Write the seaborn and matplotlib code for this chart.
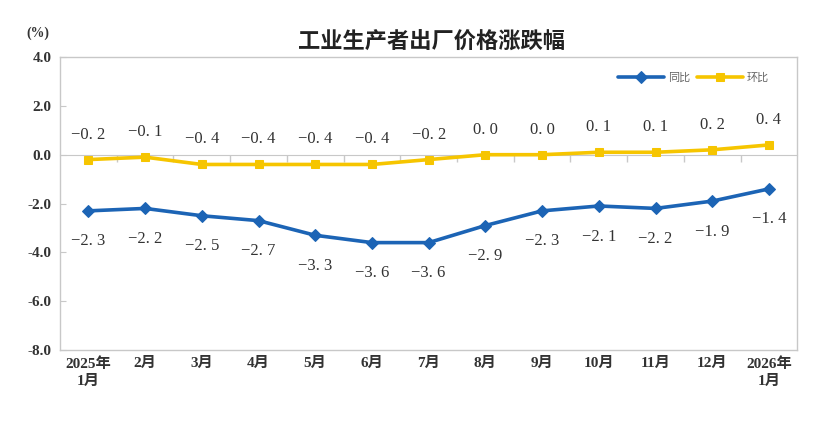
import numpy as np
import pandas as pd
import matplotlib
matplotlib.use('Agg')
import matplotlib.pyplot as plt
import seaborn as sns

# 数据
months = ['2025年\n1月', '2月', '3月', '4月', '5月', '6月', '7月', '8月', '9月',
          '10月', '11月', '12月', '2026年\n1月']
tongbi = [-2.3, -2.2, -2.5, -2.7, -3.3, -3.6, -3.6, -2.9, -2.3, -2.1, -2.2, -1.9, -1.4]
huanbi = [-0.2, -0.1, -0.4, -0.4, -0.4, -0.4, -0.2, 0.0, 0.0, 0.1, 0.1, 0.2, 0.4]
yticks = [4.0, 2.0, 0.0, -2.0, -4.0, -6.0, -8.0]

sns.set_style('white')
plt.rcParams['font.family'] = ['Liberation Serif', 'Noto Sans CJK SC', 'DejaVu Sans']
plt.rcParams['axes.unicode_minus'] = False

blue = '#1c64b5'
yellow = '#f6c500'
grey = '#c8c8c8'

df = pd.DataFrame({'pos': np.arange(len(months)), '同比': tongbi, '环比': huanbi})

fig = plt.figure(figsize=(8.22, 4.42), dpi=100)
ax = fig.add_axes([0.073, 0.208, 0.897, 0.663])

sns.lineplot(data=df, x='pos', y='同比', ax=ax, color=blue, lw=2.6, marker='D',
             markersize=6, markeredgecolor=blue, label='同比')
sns.lineplot(data=df, x='pos', y='环比', ax=ax, color=yellow, lw=2.6, marker='s',
             markersize=6, markeredgecolor=yellow, label='环比')

ax.set_xlim(-0.5, len(months) - 0.5)
ax.set_ylim(-8, 4)
ax.set_yticks(yticks)
ax.set_yticklabels([f'{v:.1f}' for v in yticks], fontweight='bold', fontsize=11, color='#333333')
ax.set_xticks(df['pos'])
ax.set_xticklabels(months, fontweight='bold', fontsize=11, color='#333333', linespacing=1.45)
ax.tick_params(axis='x', length=0, pad=5)
ax.tick_params(axis='y', length=4, direction='in', color=grey, pad=6, left=True)
ax.set_xlabel('')
ax.set_ylabel('')
for s in ax.spines.values():
    s.set_color(grey)
    s.set_linewidth(1)

# 零线及刻度
zero = ax.secondary_xaxis(8 / 12)
zero.set_xticks(np.arange(len(months) - 1) + 0.5)
zero.set_xticklabels([])
zero.tick_params(axis='x', direction='in', length=5, color=grey, width=1)
zero.spines['bottom'].set_color(grey)
zero.spines['top'].set_color(grey)


def fmt(v):
    return f'{v:.1f}'.replace('-', '\u2212').replace('.', '. ')


# 数据标签
for x, v in zip(df['pos'], huanbi):
    ax.annotate(fmt(v), (x, v), xytext=(0, 18), textcoords='offset points',
                ha='center', va='center', fontsize=12, color='#333333')
for x, v in zip(df['pos'], tongbi):
    ax.annotate(fmt(v), (x, v), xytext=(0, -22), textcoords='offset points',
                ha='center', va='center', fontsize=12, color='#333333')

ax.legend(loc='upper right', bbox_to_anchor=(0.975, 0.98), ncol=2, frameon=False,
          handlelength=4.2, columnspacing=0.6, handletextpad=0.3,
          labelcolor='#666666', prop={'family': ['Noto Sans CJK SC'], 'size': 8})

fig.text(0.525, 0.905, '工业生产者出厂价格涨跌幅', ha='center', va='center', fontsize=16,
         fontweight='bold', family=['Noto Sans CJK SC'], color='#222222')
fig.text(0.046, 0.925, '(%)', ha='center', va='center', fontsize=10, fontweight='bold',
         color='#333333')

fig.savefig('out.png', dpi=100)
